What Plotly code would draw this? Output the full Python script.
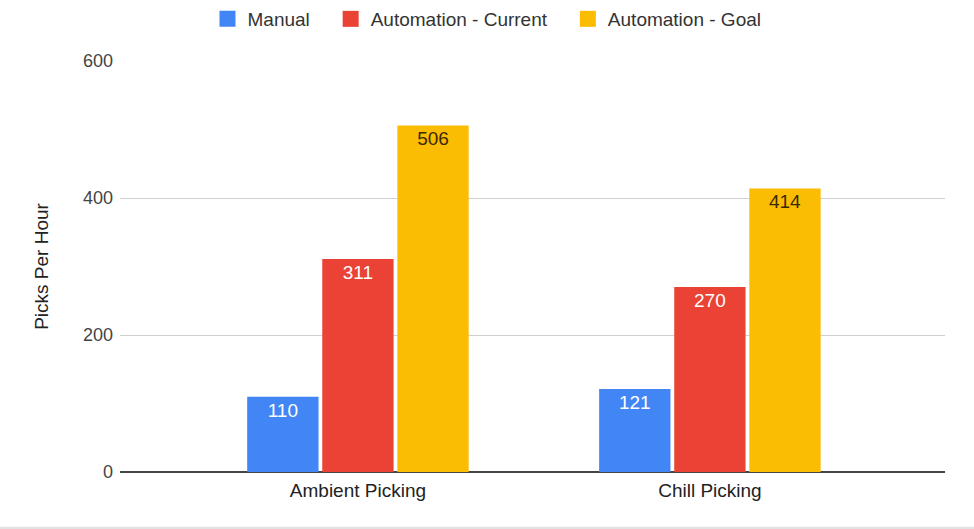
import plotly.graph_objects as go

categories = ["Ambient Picking", "Chill Picking"]
manual = [110, 121]
auto_current = [311, 270]
auto_goal = [506, 414]
y_ticks = [0, 200, 400, 600]

series = [
    ("Manual", manual, "#4285F4", "white"),
    ("Automation - Current", auto_current, "#EA4335", "white"),
    ("Automation - Goal", auto_goal, "#FBBC04", "#3a2a00"),
]

FONT = "Liberation Sans, Arial, sans-serif"
NBSP = "\u00a0"

fig = go.Figure()
for name, vals, color, tcolor in series:
    fig.add_trace(go.Bar(
        name=name, x=categories, y=vals, marker_color=color,
        marker_line_width=0,
        text=[str(v) for v in vals], textposition="inside",
        insidetextanchor="end", textangle=0,
        textfont=dict(color=tcolor, size=19, family=FONT),
        showlegend=False,
    ))
# legend entries with larger square swatches
for i, (name, vals, color, tcolor) in enumerate(series):
    label = name + (NBSP * 3 if i < len(series) - 1 else "")
    fig.add_trace(go.Scatter(
        name=label, x=[None], y=[None], mode="markers",
        marker=dict(symbol="square", size=16, color=color),
        showlegend=True,
    ))

fig.update_layout(
    width=974, height=529,
    margin=dict(l=120, r=29, t=61, b=57),
    paper_bgcolor="white", plot_bgcolor="white",
    barmode="group", bargap=0.36, bargroupgap=0.05,
    font=dict(family=FONT, color="#444", size=18),
    legend=dict(orientation="h", xref="container", x=0.5, xanchor="center",
                yref="container", y=1.0, yanchor="top",
                font=dict(size=19, color="#333"), itemsizing="trace",
                traceorder="normal"),
    shapes=[dict(type="line", xref="paper", yref="paper", x0=-0.2, x1=1.2,
                 y0=-57/411 + 0.002, y1=-57/411 + 0.002,
                 line=dict(color="#e2e2e2", width=3))],
)
fig.update_xaxes(range=[-0.676, 1.668], showgrid=False, showline=False,
                 tickfont=dict(size=19, color="#222"), ticks="", ticklabelstandoff=5)
fig.update_yaxes(range=[0, 600], tickvals=y_ticks, showgrid=True, gridcolor="#d0d0d0",
                 gridwidth=1, zeroline=True, zerolinecolor="#444", zerolinewidth=2,
                 tickfont=dict(size=18, color="#444"), ticks="", ticklabelstandoff=6,
                 title=dict(text="Picks Per Hour", font=dict(size=19, color="#222"), standoff=29))

fig.write_html("out.html")
